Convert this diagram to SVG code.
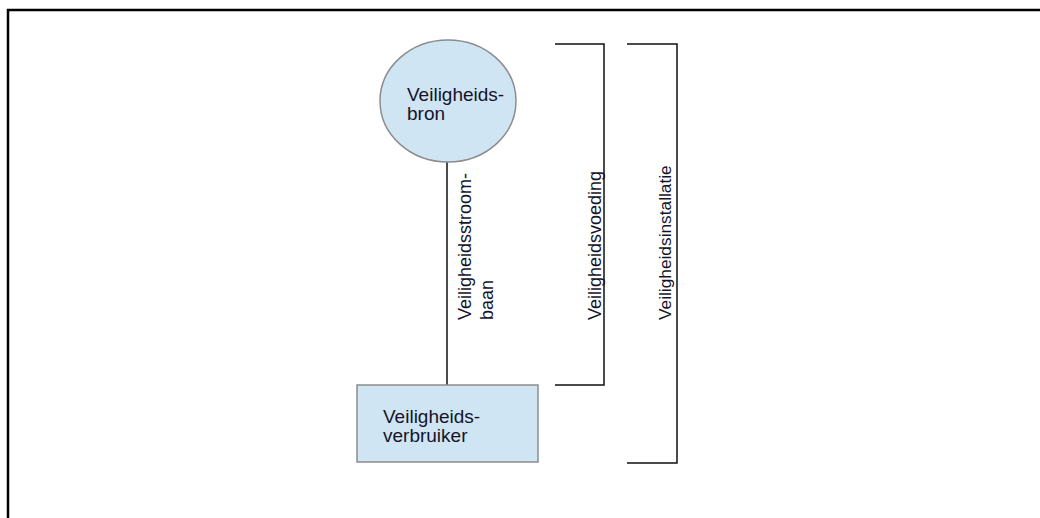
<svg xmlns="http://www.w3.org/2000/svg" width="1040" height="518" viewBox="0 0 1040 518">
<style>
.t{font-family:"Liberation Sans",Arial,sans-serif;font-size:19px;fill:#14142a}
.v{font-size:18px}
.node{fill:#d0e5f4;stroke:#8c8c8c;stroke-width:1.5}
.ln{stroke:#111;stroke-width:1.5;fill:none}
</style>
<rect width="1040" height="518" fill="#fff"/>
<path d="M8,518 V10 H1040" fill="none" stroke="#000" stroke-width="2.5"/>
<g id="connectors">
<line class="ln" x1="447" y1="162" x2="447" y2="385"/>
<text class="t v" transform="translate(471,320) rotate(-90)">Veiligheidsstroom-</text>
<text class="t v" transform="translate(493,320) rotate(-90)">baan</text>
</g>
<g id="bron">
<ellipse class="node" cx="448" cy="101" rx="68" ry="61"/>
<text class="t" x="407" y="101">Veiligheids-</text>
<text class="t" x="407" y="120">bron</text>
</g>
<g id="verbruiker">
<rect class="node" x="357" y="385" width="181" height="77"/>
<text class="t" x="383" y="423">Veiligheids-</text>
<text class="t" x="383" y="442">verbruiker</text>
</g>
<g id="voeding">
<path class="ln" d="M555,44 H604 V385 H555"/>
<text class="t v" transform="translate(601,320) rotate(-90)">Veiligheidsvoeding</text>
</g>
<g id="installatie">
<path class="ln" d="M627,44 H677 V463 H627"/>
<text class="t" style="font-size:17.3px" transform="translate(671,320) rotate(-90)">Veiligheidsinstallatie</text>
</g>
</svg>
